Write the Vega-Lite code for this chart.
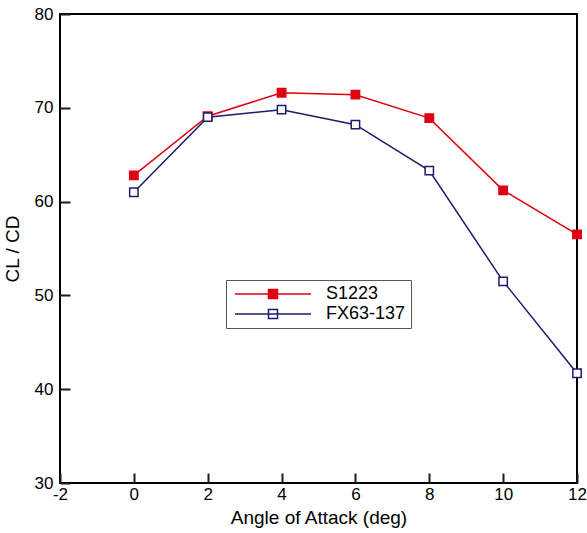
{
  "$schema": "https://vega.github.io/schema/vega-lite/v6.json",
  "width": 517,
  "height": 469,
  "autosize": {"type": "none"},
  "padding": {"left": 60, "top": 14, "right": 10, "bottom": 50},
  "background": "white",
  "config": {
    "view": {"stroke": "black", "strokeWidth": 2},
    "font": "Liberation Sans"
  },
  "data": {
    "values": [
      {"aoa": 0, "ratio": 62.8, "airfoil": "S1223"},
      {"aoa": 2, "ratio": 69.1, "airfoil": "S1223"},
      {"aoa": 4, "ratio": 71.6, "airfoil": "S1223"},
      {"aoa": 6, "ratio": 71.4, "airfoil": "S1223"},
      {"aoa": 8, "ratio": 68.9, "airfoil": "S1223"},
      {"aoa": 10, "ratio": 61.2, "airfoil": "S1223"},
      {"aoa": 12, "ratio": 56.5, "airfoil": "S1223"},
      {"aoa": 0, "ratio": 61.0, "airfoil": "FX63-137"},
      {"aoa": 2, "ratio": 69.0, "airfoil": "FX63-137"},
      {"aoa": 4, "ratio": 69.8, "airfoil": "FX63-137"},
      {"aoa": 6, "ratio": 68.2, "airfoil": "FX63-137"},
      {"aoa": 8, "ratio": 63.3, "airfoil": "FX63-137"},
      {"aoa": 10, "ratio": 51.5, "airfoil": "FX63-137"},
      {"aoa": 12, "ratio": 41.7, "airfoil": "FX63-137"}
    ]
  },
  "encoding": {
    "x": {
      "field": "aoa",
      "type": "quantitative",
      "scale": {"domain": [-2, 12], "nice": false, "zero": false},
      "axis": {
        "values": [-2, 0, 2, 4, 6, 8, 10, 12],
        "title": "Angle of Attack (deg)",
        "domain": false,
        "grid": false,
        "tickColor": "#1a1a1a",
        "tickWidth": 2,
        "tickSize": -10,
        "labelPadding": 13,
        "labelColor": "black",
        "labelFontSize": 17,
        "labelFont": "Liberation Sans",
        "labelOverlap": false,
        "labelFlush": false,
        "labelExpr": "'' + datum.value",
        "titleColor": "black",
        "titleFont": "Liberation Sans",
        "titleFontSize": 19,
        "titleFontWeight": "normal",
        "titlePadding": 6
      }
    },
    "y": {
      "field": "ratio",
      "type": "quantitative",
      "scale": {"domain": [30, 80], "nice": false, "zero": false},
      "axis": {
        "values": [30, 40, 50, 60, 70, 80],
        "title": "CL / CD",
        "domain": false,
        "grid": false,
        "tickColor": "#1a1a1a",
        "tickWidth": 2,
        "tickSize": -10,
        "labelPadding": 17,
        "labelColor": "black",
        "labelFontSize": 17,
        "labelFont": "Liberation Sans",
        "labelOverlap": false,
        "labelFlush": false,
        "labelExpr": "'' + datum.value",
        "titleColor": "black",
        "titleFont": "Liberation Sans",
        "titleFontSize": 19,
        "titleFontWeight": "normal",
        "titlePadding": 12
      }
    }
  },
  "layer": [
    {
      "mark": {"type": "line", "strokeWidth": 1.5},
      "encoding": {
        "color": {
          "field": "airfoil",
          "type": "nominal",
          "scale": {"domain": ["S1223", "FX63-137"], "range": ["#e00010", "#1c1c6e"]},
          "legend": {
            "title": null,
            "orient": "none",
            "legendX": 166,
            "legendY": 266,
            "strokeColor": "#555555",
            "fillColor": "white",
            "padding": 5,
            "symbolType": "M-1,0H14.2M5.7,-0.9H7.5V0.9H5.7Z",
            "symbolSize": 100,
            "symbolStrokeWidth": 1.5,
            "labelFontSize": 18,
            "labelFont": "Liberation Sans",
            "labelColor": "black",
            "labelOffset": 77,
            "rowPadding": 2,
            "encode": {
              "symbols": {
                "update": {
                  "fill": {"signal": "datum.value == 'S1223' ? '#e00010' : 'white'"},
                  "fillOpacity": {"value": 1}
                }
              }
            }
          }
        }
      }
    },
    {
      "mark": {"type": "point", "shape": "square", "size": 70, "strokeWidth": 1.5, "opacity": 1, "filled": true},
      "encoding": {
        "fill": {
          "field": "airfoil",
          "type": "nominal",
          "scale": {"domain": ["S1223", "FX63-137"], "range": ["#e00010", "white"]},
          "legend": null
        },
        "stroke": {
          "field": "airfoil",
          "type": "nominal",
          "scale": {"domain": ["S1223", "FX63-137"], "range": ["#e00010", "#1c1c6e"]},
          "legend": null
        }
      }
    }
  ]
}
